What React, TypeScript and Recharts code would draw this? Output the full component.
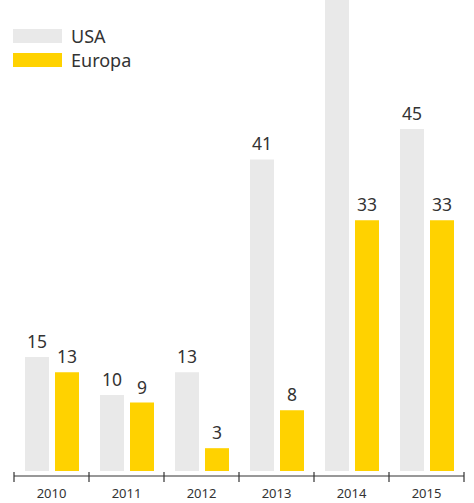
import React from "react";
import { BarChart, Bar, XAxis, YAxis, LabelList } from "recharts";

const years = ["2010", "2011", "2012", "2013", "2014", "2015"];
const usa = [15, 10, 13, 41, 64, 45];
const europa = [13, 9, 3, 8, 33, 33];

const seriesNames = ["USA", "Europa"];
const seriesColors = ["#e9e9e9", "#ffd200"];

const data = years.map((y, i) => ({ year: y, USA: usa[i], Europa: europa[i] }));

const FONT = "'Noto Sans', sans-serif";

const YearTick = (props: any) => {
  const { x, y, payload, index, visibleTicksCount } = props;
  const half = payload && payload.offset ? payload.offset : 37.5;
  const last = index === (visibleTicksCount ?? years.length) - 1;
  return (
    <g>
      <line x1={x - half} x2={x - half} y1={y - 4} y2={y + 6} stroke="#333" strokeWidth={1.2} />
      {last && <line x1={x + half} x2={x + half} y1={y - 4} y2={y + 6} stroke="#333" strokeWidth={1.2} />}
      <text x={x} y={y + 13} dy="0.71em" textAnchor="middle" fill="#333" fontSize={13} fontFamily={FONT}>
        {payload.value}
      </text>
    </g>
  );
};

const ValueLabel = (props: any) => {
  const { x, y, width, value } = props;
  if (y <= 1) return null;
  return (
    <text x={x + width / 2} y={y - 9} textAnchor="middle" fill="#333" fontSize={17.5} fontFamily={FONT}>
      {value}
    </text>
  );
};

export default function App() {
  return (
    <div style={{ position: "absolute", left: 0, top: 0, width: 474, height: 503, fontFamily: FONT }}>
      <BarChart
        width={474}
        height={503}
        data={data}
        margin={{ top: 0, right: 10, left: 14, bottom: 0 }}
        barCategoryGap="14%"
        barGap={6}
        barSize={24}
      >
        <XAxis
          dataKey="year"
          height={27}
          axisLine={{ stroke: "#333", strokeWidth: 1.2 }}
          tickLine={false}
          tickSize={0}
          tickMargin={0}
          tick={<YearTick />}
          interval={0}
        />
        <YAxis hide domain={[-0.66, 61.97]} allowDataOverflow />
        {seriesNames.map((name, i) => (
          <Bar key={name} dataKey={name} fill={seriesColors[i]} isAnimationActive={false}>
            <LabelList dataKey={name} content={<ValueLabel />} />
          </Bar>
        ))}
      </BarChart>
      <div style={{ position: "absolute", left: 13, top: 24, fontFamily: FONT }}>
        {seriesNames.map((name, i) => (
          <div key={name} style={{ display: "flex", alignItems: "center", height: 24 }}>
            <div style={{ width: 49, height: 14, background: seriesColors[i], marginRight: 9 }} />
            <span style={{ fontSize: 18, color: "#333", lineHeight: "24px" }}>{name}</span>
          </div>
        ))}
      </div>
    </div>
  );
}
